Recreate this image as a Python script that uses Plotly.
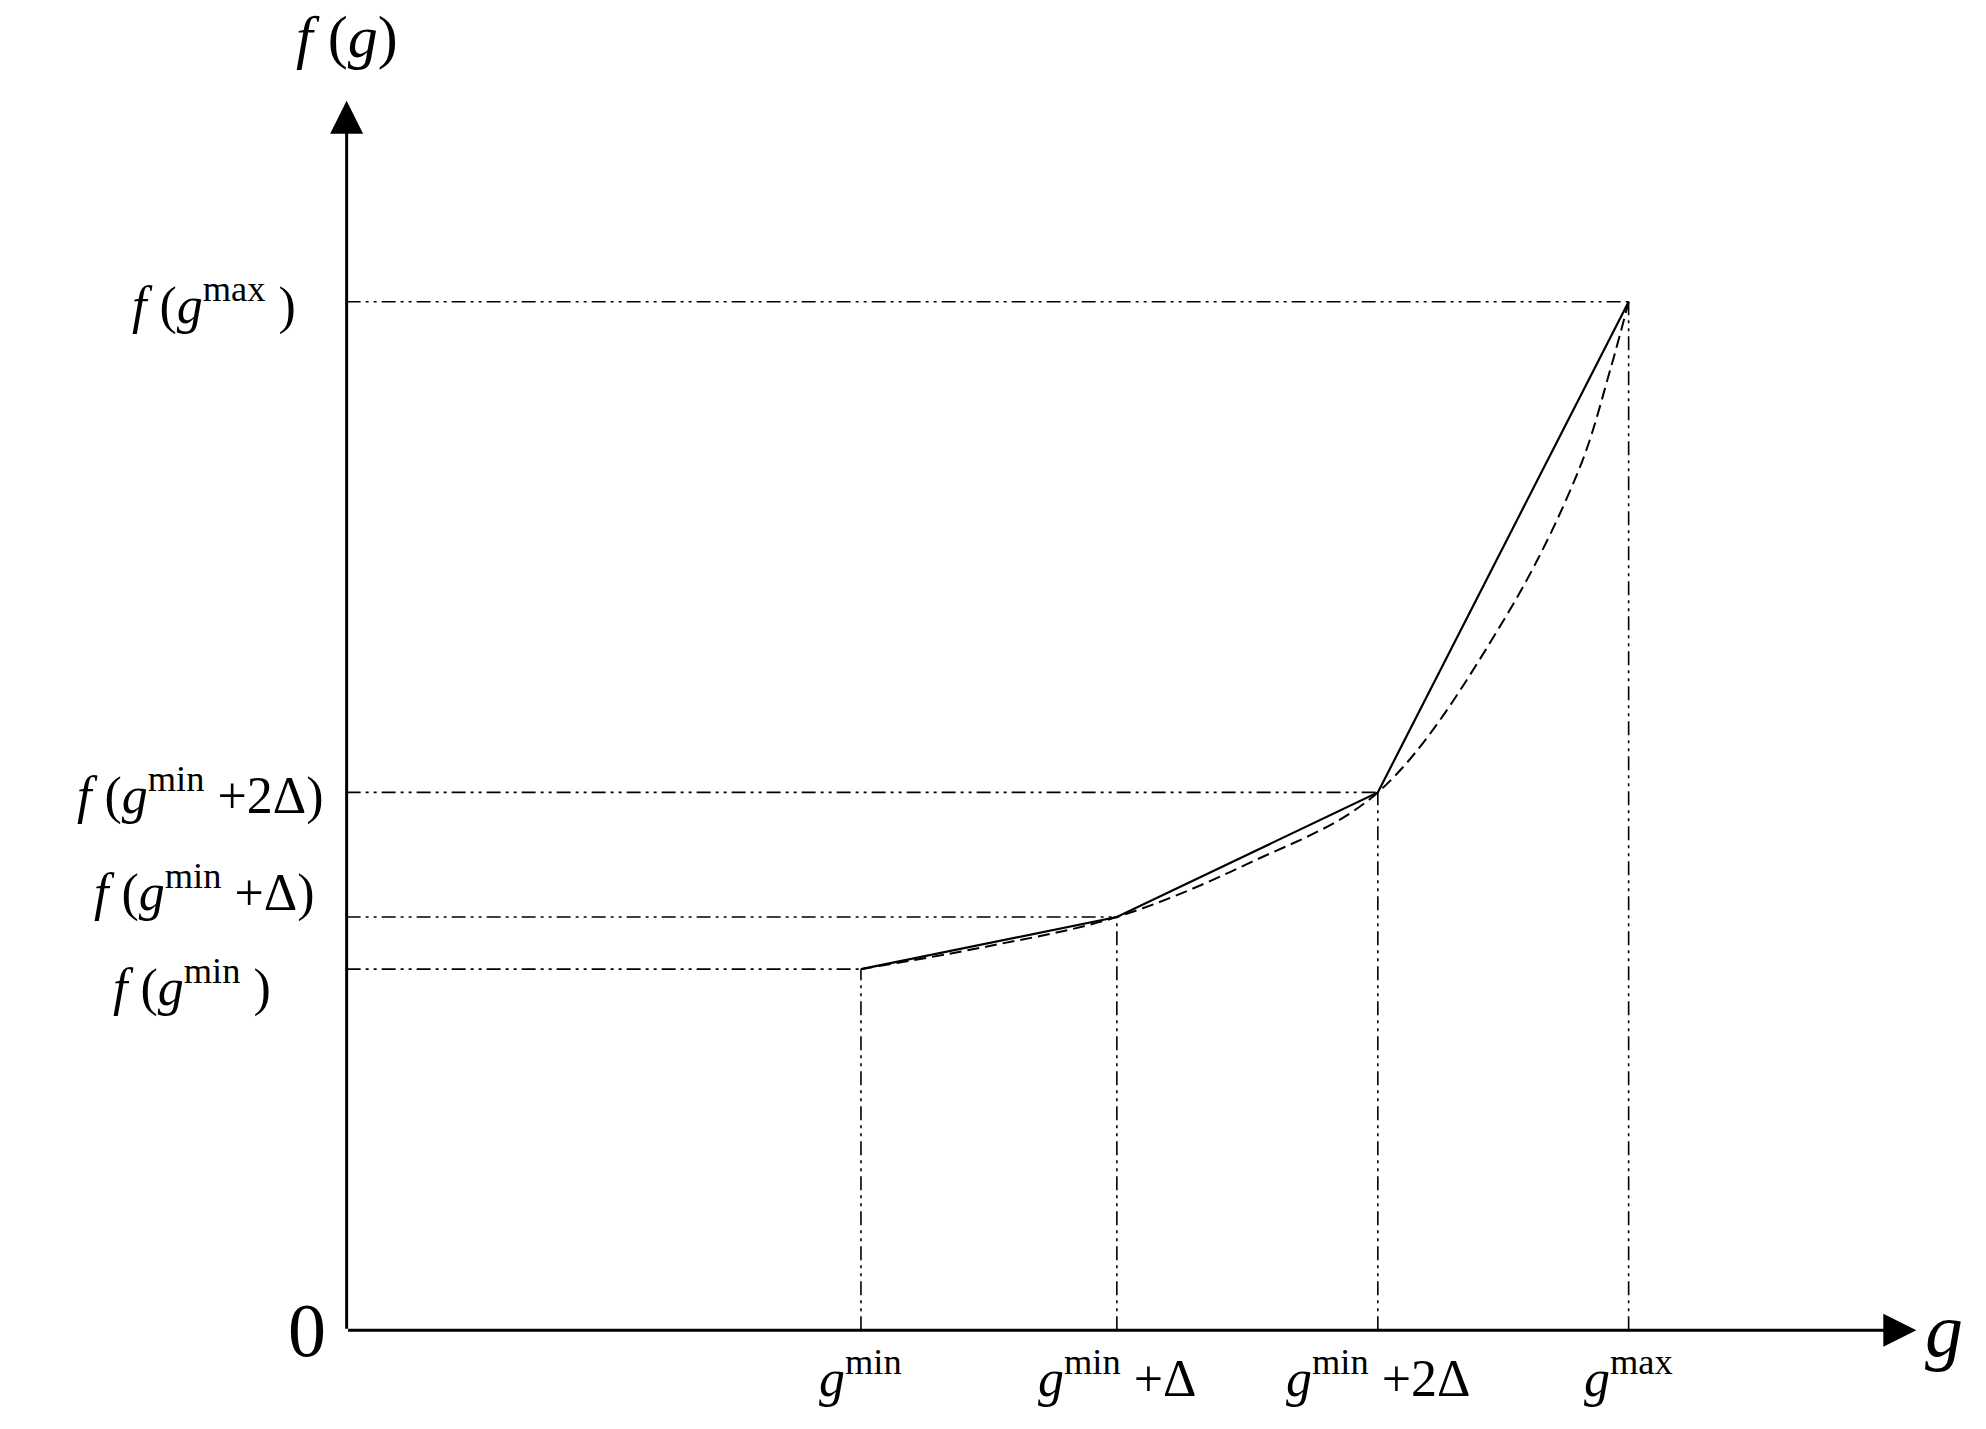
import plotly.graph_objects as go

# data (relative units)
g_labels = ["<i>g</i><sup>min</sup>", "<i>g</i><sup>min</sup> +Δ", "<i>g</i><sup>min</sup> +2Δ", "<i>g</i><sup>max</sup>"]
f_labels = ["<i>f</i> (<i>g</i><sup>min</sup> )", "<i>f</i> (<i>g</i><sup>min</sup> +Δ)", "<i>f</i> (<i>g</i><sup>min</sup> +2Δ)", "<i>f</i> (<i>g</i><sup>max</sup> )"]
g_vals = [404, 605, 810, 1007]
f_vals = [284, 325, 423, 809]
curve_g = [404, 504, 605, 708, 810, 908, 968, 993, 1007]
curve_f = [284, 302, 325, 367, 423, 557, 677, 757, 809]

FONT = "Liberation Serif"
fig = go.Figure()
ddd = "14px,5px,3px,5px,3px,5px"
for g, f in zip(g_vals, f_vals):
    fig.add_trace(go.Scatter(x=[0, g], y=[f, f], mode="lines", line=dict(color="black", width=1.6, dash=ddd), hoverinfo="skip"))
    fig.add_trace(go.Scatter(x=[g, g], y=[0, f], mode="lines", line=dict(color="black", width=1.6, dash=ddd), hoverinfo="skip"))
fig.add_trace(go.Scatter(x=curve_g, y=curve_f, mode="lines", line=dict(color="black", width=2, dash="12px,6px", shape="spline"), hoverinfo="skip"))
fig.add_trace(go.Scatter(x=g_vals, y=f_vals, mode="lines", line=dict(color="black", width=2.2), hoverinfo="skip"))

# axes with arrows
fig.add_annotation(x=1233, y=0, ax=0, ay=0, xref="x", yref="y", axref="x", ayref="y", text="",
                   showarrow=True, arrowhead=2, arrowsize=2.2, arrowwidth=3, arrowcolor="black")
fig.add_annotation(x=0, y=967, ax=0, ay=0, xref="x", yref="y", axref="x", ayref="y", text="",
                   showarrow=True, arrowhead=2, arrowsize=2.2, arrowwidth=3, arrowcolor="black")

big = dict(family=FONT, size=60, color="black")
lab = dict(family=FONT, size=52, color="black")
fig.add_annotation(x=1238, y=0, text="<i>g</i>", showarrow=False, xanchor="left", yanchor="middle", font=dict(family=FONT, size=76, color="black"))
fig.add_annotation(x=0, y=990, text="<i>f</i> (<i>g</i>)", showarrow=False, xanchor="center", yanchor="bottom", font=big)
fig.add_annotation(x=-15, y=0, text="0", showarrow=False, xanchor="right", yanchor="middle", font=dict(family=FONT, size=76, color="black"))
for g, t in zip(g_vals, g_labels):
    fig.add_annotation(x=g, y=-8, text=t, showarrow=False, xanchor="center", yanchor="top", font=lab)
x_off = [-50, -15, -8, -30]
y_off = [-12, 22, 0, 0]
for f, t, dx, dy in zip(f_vals, f_labels, x_off, y_off):
    fig.add_annotation(x=-8 + dx, y=f + dy, text=t, showarrow=False, xanchor="right", yanchor="middle", font=lab)

fig.update_xaxes(range=[-266, 1294], visible=False)
fig.update_yaxes(range=[-84, 1040], visible=False)
fig.update_layout(width=1986, height=1429, margin=dict(l=0, r=0, t=0, b=0), showlegend=False,
                  plot_bgcolor="white", paper_bgcolor="white")
fig.write_html("out.html")
